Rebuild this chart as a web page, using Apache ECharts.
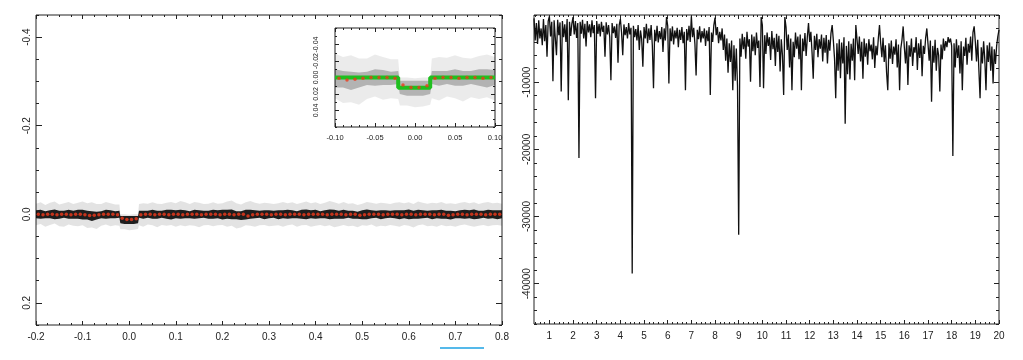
<!DOCTYPE html>
<html><head><meta charset="utf-8">
<script src="https://cdn.jsdelivr.net/npm/echarts@6/dist/echarts.min.js"></script>
<style>html,body{margin:0;padding:0;background:#fff}#c{width:1023px;height:360px}</style>
</head><body><div id="c"></div><script>
// ---------------- Left panel: phase-folded light curve ----------------
const mainXTicks = [-0.2,-0.1,0.0,0.1,0.2,0.3,0.4,0.5,0.6,0.7,0.8];
const mainYTicks = [-0.4,-0.2,0.0,0.2];
const insetXTicks = [-0.10,-0.05,0.00,0.05,0.10];
const insetYTicks = [-0.04,-0.02,0.00,0.02,0.04];

// scatter cloud drawn as a band: phase grid, centre, upper/lower halo extent, core half width
const bandPhase = [-0.20,-0.19,-0.18,-0.17,-0.16,-0.15,-0.14,-0.13,-0.12,-0.11,
 -0.10,-0.09,-0.08,-0.07,-0.06,-0.05,-0.04,-0.03,-0.021,-0.019,
 -0.01,0.00,0.01,0.019,0.021,0.03,0.04,0.05,0.06,0.07,
 0.08,0.09,0.10,0.11,0.12,0.13,0.14,0.15,0.16,0.17,
 0.18,0.19,0.20,0.21,0.22,0.23,0.24,0.25,0.26,0.27,
 0.28,0.29,0.30,0.31,0.32,0.33,0.34,0.35,0.36,0.37,
 0.38,0.39,0.40,0.41,0.42,0.43,0.44,0.45,0.46,0.47,
 0.48,0.49,0.50,0.51,0.52,0.53,0.54,0.55,0.56,0.57,
 0.58,0.59,0.60,0.61,0.62,0.63,0.64,0.65,0.66,0.67,
 0.68,0.69,0.70,0.71,0.72,0.73,0.74,0.75,0.76,0.77,
 0.78,0.79,0.80];
const bandCenter = [0,0,0.001,0,0,0.001,0,0,0.001,0,
 0.001,0.002,0.004,0.003,0.001,0,0,0.001,0,0.012,
 0.013,0.013,0.013,0.012,0,0.001,0,0,0.001,0,
 0,0.001,0,0,0,0.001,0,0,0,0.001,
 0,0,0.001,0,0,0.002,0.003,0.001,0,0,
 0,0.001,0,0,0.001,0,0,0,0.001,0,
 0,0,0,0.001,0,0,0,0.001,0,0,
 0.001,0.002,0.001,0,0,0,0.001,0,0,0,
 0.001,0,0,0.001,0,0,0,0.001,0,0,
 0.001,0.002,0.001,0,0,0,0,0.001,0,0,
 0,0.001,0];
const haloHi = [0.024,0.027,0.022,0.026,0.029,0.023,0.025,0.028,0.024,0.026,
 0.030,0.027,0.031,0.026,0.024,0.028,0.025,0.023,0.022,0.012,
 0.013,0.012,0.013,0.012,0.023,0.026,0.024,0.027,0.025,0.023,
 0.026,0.029,0.025,0.030,0.027,0.024,0.028,0.026,0.023,0.025,
 0.027,0.024,0.026,0.029,0.031,0.027,0.025,0.028,0.030,0.026,
 0.024,0.027,0.025,0.023,0.026,0.028,0.025,0.027,0.024,0.026,
 0.029,0.025,0.027,0.024,0.026,0.030,0.027,0.025,0.028,0.024,
 0.026,0.023,0.025,0.028,0.026,0.024,0.027,0.025,0.023,0.026,
 0.028,0.025,0.027,0.024,0.029,0.026,0.024,0.027,0.025,0.028,
 0.025,0.027,0.024,0.026,0.028,0.025,0.027,0.024,0.026,0.028,
 0.025,0.027,0.024];
const haloLo = [0.025,0.022,0.027,0.024,0.021,0.026,0.028,0.023,0.025,0.027,
 0.024,0.029,0.026,0.030,0.025,0.023,0.027,0.024,0.026,0.022,
 0.021,0.023,0.022,0.021,0.025,0.027,0.023,0.025,0.028,0.024,
 0.026,0.023,0.028,0.025,0.027,0.024,0.026,0.029,0.025,0.023,
 0.027,0.025,0.023,0.028,0.026,0.030,0.027,0.024,0.026,0.028,
 0.025,0.023,0.027,0.026,0.024,0.028,0.025,0.023,0.027,0.025,
 0.024,0.028,0.026,0.023,0.027,0.025,0.029,0.026,0.024,0.027,
 0.025,0.027,0.024,0.026,0.023,0.028,0.025,0.027,0.024,0.026,
 0.027,0.024,0.026,0.029,0.025,0.023,0.027,0.025,0.028,0.024,
 0.026,0.024,0.027,0.025,0.023,0.026,0.028,0.025,0.024,0.027,
 0.025,0.023,0.026];
const coreHalf = [0.009,0.010,0.008,0.009,0.011,0.009,0.008,0.010,0.009,0.010,
 0.011,0.010,0.011,0.009,0.008,0.010,0.009,0.008,0.008,0.008,
 0.009,0.009,0.009,0.008,0.008,0.009,0.008,0.010,0.009,0.008,
 0.010,0.011,0.009,0.010,0.009,0.008,0.010,0.009,0.008,0.009,
 0.010,0.009,0.011,0.010,0.011,0.009,0.010,0.011,0.010,0.009,
 0.008,0.010,0.009,0.008,0.010,0.009,0.010,0.009,0.008,0.010,
 0.011,0.009,0.010,0.008,0.009,0.011,0.010,0.009,0.010,0.008,
 0.009,0.008,0.010,0.011,0.009,0.008,0.010,0.009,0.008,0.009,
 0.010,0.009,0.011,0.009,0.010,0.009,0.008,0.010,0.009,0.010,
 0.009,0.010,0.008,0.009,0.010,0.009,0.011,0.009,0.008,0.010,
 0.009,0.010,0.009];

// binned light curve (red points), bins of 0.01 starting at -0.195
const binStart = -0.195, binStep = 0.01;
const binFlux = [0,0.001,0,0,0.001,0,0,0.001,0,0,
 0.001,0.003,0.002,0.001,0,0,0,0.001,0.009,0.012,
 0.012,0.010,0.001,0,0,0.001,0,0,0.001,0,
 0,0.001,0,0,0,0.001,0,0,0,0.001,
 0,0,0.001,0,0,0.004,0.001,0,0,0,
 0.001,0,0,0.001,0,0,0,0.001,0,0,
 0,0,0.001,0,0,0,0.001,0,0,0.002,
 0.001,0,0,0,0.001,0,0,0,0.001,0,
 0,0.001,0,0,0,0.001,0,0,0.002,0.001,
 0,0,0.001,0,0,0,0.001,0,0,0];

// transit model (green, inset)
const modelPhase = [-0.10,-0.021,-0.021,0.019,0.019,0.10];
const modelFlux  = [0,0,0.0125,0.0125,0,0];

// ---------------- Right panel: periodogram ----------------
const rightXTicks = [1,2,3,4,5,6,7,8,9,10,11,12,13,14,15,16,17,18,19,20];
const rightYTicks = [-10000,-20000,-30000,-40000];
const freqStep = 0.05;
const rowStarts = [0.35,1,2,3,4,5,6,7,8,9,10,11,12,13,14,15,16,17,18,19];
const powerRows = [
 [-500,-3800,-1200,-4300,-800,-3500,-2000,-4500,-600,-3900,-1500,-6200,-900],
 [-200,-3200,-1000,-9850,-800,-3400,-6000,-700,-3000,-1100,-11400,-900,-3300,-1400,-4000,-600,-12700,-1000,-3100,-1300],
 [-300,-2900,-900,-3400,-1200,-21300,-1000,-2800,-700,-3500,-1300,-4700,-900,-2600,-1400,-3300,-800,-2700,-1500,-12400],
 [-900,-2800,-1300,-3200,-1000,-2500,-1600,-6200,-1100,-2900,-1500,-3300,-9700,-1200,-2700,-1700,-3400,-1300,-7100,-1500],
 [-600,-2600,-6000,-1400,-3000,-1800,-3500,-1200,-2900,-1900,-38500,-1600,-3300,-2100,-3800,-1500,-5200,-2300,-3600,-7700],
 [-1800,-3500,-1300,-4200,-2000,-3700,-1500,-4500,-10900,-2200,-3900,-1600,-4100,-2400,-3600,-1800,-5500,-2000,-3800,-300],
 [-1600,-10200,-2000,-3900,-1700,-4400,-2300,-3500,-1900,-4800,-2200,-3700,-1800,-4200,-2500,-11200,-2100,-3800,-1600,-4000],
 [-200,-3300,-1900,-4300,-9000,-2200,-3600,-1700,-4100,-2400,-3500,-2000,-4600,-2300,-3900,-1800,-11900,-2600,-4000,-1500],
 [-400,-3000,-1800,-4200,-2500,-3800,-2000,-5200,-2900,-6800,-3500,-8600,-4200,-7000,-3800,-11200,-4500,-9800,-5000,-10500],
 [-32700,-3500,-6200,-2800,-5100,-3300,-6500,-2500,-4700,-3600,-9950,-2900,-5400,-3200,-6000,-2600,-4900,-3800,-10700,-300],
 [-1500,-10900,-3000,-5800,-2600,-4600,-3300,-6700,-2400,-5100,-3400,-7600,-2800,-5500,-3100,-8400,-3600,-6000,-11900,-300],
 [-1800,-5200,-2900,-7800,-3500,-11200,-4000,-6300,-2600,-5000,-3200,-6600,-2900,-11200,-3500,-5400,-2700,-6100,-3300,-1200],
 [-4000,-2500,-5600,-9500,-3100,-5200,-2800,-6300,-3600,-5000,-2900,-6900,-3400,-5600,-3000,-7200,-3700,-5300,-2700,-1500],
 [-3800,-6500,-12400,-4200,-8300,-3600,-9400,-4100,-7200,-3300,-16200,-4600,-8800,-3900,-9600,-4300,-6800,-3500,-9700,-1500],
 [-3600,-5800,-3200,-6900,-4000,-9500,-3500,-6200,-4200,-7400,-3600,-5400,-4400,-6600,-3300,-7900,-4600,-6000,-3500,-1500],
 [-4200,-6300,-3400,-7000,-4500,-8600,-11200,-4200,-6500,-3800,-7300,-4700,-5900,-3600,-7800,-4400,-11200,-5000,-3700,-1700],
 [-4800,-7200,-3900,-10400,-4500,-6200,-3500,-7600,-4800,-5600,-3300,-8200,-4200,-6400,-3600,-9100,-4600,-5800,-3400,-2000],
 [-4300,-6800,-3800,-12900,-4600,-7100,-3700,-8300,-4900,-6000,-11400,-4400,-6600,-3500,-5300,-3900,-4800,-3300,-4100,-3500],
 [-4600,-21000,-4200,-7800,-3600,-6400,-4500,-8700,-3900,-11200,-4700,-6100,-3400,-7400,-4300,-5600,-3200,-6800,-2600,-1700],
 [-4000,-6900,-3700,-8200,-12400,-4800,-7200,-3900,-6600,-11200,-4500,-7000,-4100,-8300,-4700,-10200,-5100,-7300,-4600,-3200,-2200]
];

// ---------------- build ----------------
const r6 = v => Math.round(v * 1e6) / 1e6;
function steps(a, b, s) { const out = []; const n = Math.round((b - a) / s); for (let i = 0; i <= n; i++) out.push(r6(a + i * s)); return out; }

const FONT = 'Liberation Sans';
const INK = '#222';

function axes(dim, grid, min, max, majors, minors, majLen, minLen, inverse, label) {
  const pos = dim === 'x' ? ['bottom', 'top'] : ['left', 'right'];
  const base = { type: 'value', gridIndex: grid, min, max, inverse: !!inverse,
    axisLine: { show: false, onZero: false }, splitLine: { show: false }, minorTick: { show: false } };
  const mk = (p, vals, len, withLabel) => Object.assign({}, base, {
    position: p,
    axisTick: { show: true, inside: true, length: len, customValues: vals, lineStyle: { color: INK, width: 1 } },
    axisLabel: withLabel ? Object.assign({ show: true, customValues: majors, color: INK, fontFamily: FONT,
                                           hideOverlap: false, showMinLabel: true, showMaxLabel: true }, label)
                         : { show: false }
  });
  return [mk(pos[0], majors, majLen, true), mk(pos[0], minors, minLen, false),
          mk(pos[1], majors, majLen, false), mk(pos[1], minors, minLen, false)];
}

const xAxes = [].concat(
  axes('x', 0, -0.2, 0.8, mainXTicks, steps(-0.2, 0.8, 0.025), 4, 2, false,
       { fontSize: 10, margin: 7, formatter: v => v.toFixed(1) }),
  axes('x', 1, -0.1, 0.1, insetXTicks, steps(-0.1, 0.1, 0.01), 4, 2, false,
       { fontSize: 7.5, margin: 7, formatter: v => v.toFixed(2) }),
  axes('x', 2, 0.35, 20, rightXTicks, steps(0.4, 20, 0.2), 4, 2, false,
       { fontSize: 10, margin: 7, formatter: v => String(v) })
);
const yAxes = [].concat(
  axes('y', 0, -0.45, 0.25, mainYTicks, steps(-0.45, 0.25, 0.05), 6, 3, true,
       { fontSize: 10, margin: 4, rotate: 90, formatter: v => v.toFixed(1) }),
  axes('y', 1, -0.06, 0.06, insetYTicks, steps(-0.06, 0.06, 0.01), 4, 2, true,
       { fontSize: 7, margin: 15, rotate: 90, formatter: v => v.toFixed(2) }),
  axes('y', 2, -46000, 0, rightYTicks, steps(-46000, 0, 2000), 5, 3, false,
       { fontSize: 10, margin: 2, rotate: 90, formatter: v => String(v) })
);

// filled band polygon drawn through the axes' scales
function band(grid, hiArr, loArr, color, xmin, xmax, z) {
  const ax = grid * 4;
  const idx = bandPhase.map((p, i) => i).filter(i => bandPhase[i] >= xmin - 1e-9 && bandPhase[i] <= xmax + 1e-9);
  return {
    type: 'custom', xAxisIndex: ax, yAxisIndex: ax, silent: true, z: z,
    data: [[bandPhase[idx[0]], bandCenter[idx[0]]]],
    renderItem: function (params, api) {
      const pts = [];
      idx.forEach(i => pts.push(api.coord([bandPhase[i], bandCenter[i] - hiArr[i]])));
      idx.slice().reverse().forEach(i => pts.push(api.coord([bandPhase[i], bandCenter[i] + loArr[i]])));
      return { type: 'polygon', shape: { points: pts }, style: { fill: color, stroke: null } };
    }
  };
}

const binData = binFlux.map((f, i) => [r6(binStart + i * binStep), f]);
const modelData = modelPhase.map((p, i) => [p, modelFlux[i]]);
const powerData = [];
powerRows.forEach((row, r) => row.forEach((v, j) => powerData.push([r6(rowStarts[r] + j * freqStep), v])));

const series = [
  band(0, haloHi, haloLo, 'rgba(0,0,0,0.11)', -0.2, 0.8, 2),
  band(0, coreHalf, coreHalf, 'rgba(8,8,8,0.9)', -0.2, 0.8, 2),
  { type: 'scatter', xAxisIndex: 0, yAxisIndex: 0, data: binData, symbol: 'circle', symbolSize: 3.5,
    itemStyle: { color: '#f03a1c' }, z: 5 },
  band(1, haloHi, haloLo, 'rgba(0,0,0,0.08)', -0.1, 0.1, 4),
  band(1, coreHalf, coreHalf, 'rgba(0,0,0,0.24)', -0.1, 0.1, 4),
  { type: 'line', xAxisIndex: 4, yAxisIndex: 4, data: modelData, symbol: 'none',
    lineStyle: { color: '#1fbf1f', width: 4 }, z: 5 },
  { type: 'scatter', xAxisIndex: 4, yAxisIndex: 4, data: binData, symbol: 'circle', symbolSize: 3.5,
    itemStyle: { color: '#ee3a1a' }, z: 6 },
  { type: 'line', xAxisIndex: 8, yAxisIndex: 8, data: powerData, symbol: 'none', sampling: null,
    lineStyle: { color: '#111', width: 1.3 }, z: 3 }
];

const chart = echarts.init(document.getElementById('c'), null, { renderer: 'canvas' });
chart.setOption({
  animation: false,
  backgroundColor: '#fff',
  grid: [
    { left: 36, top: 15, width: 466, height: 310, show: true, borderColor: INK, borderWidth: 1, backgroundColor: 'transparent', outerBoundsMode: 'none' },
    { left: 335, top: 28, width: 160, height: 99, show: true, borderColor: INK, borderWidth: 1, backgroundColor: 'transparent', outerBoundsMode: 'none' },
    { left: 534, top: 15, width: 465, height: 309, show: true, borderColor: INK, borderWidth: 1, backgroundColor: 'transparent', outerBoundsMode: 'none' }
  ],
  xAxis: xAxes,
  yAxis: yAxes,
  series: series,
  graphic: [{ type: 'rect', shape: { x: 440, y: 347, width: 44, height: 2 }, style: { fill: '#55b9ea' }, silent: true }]
});
</script></body></html>
